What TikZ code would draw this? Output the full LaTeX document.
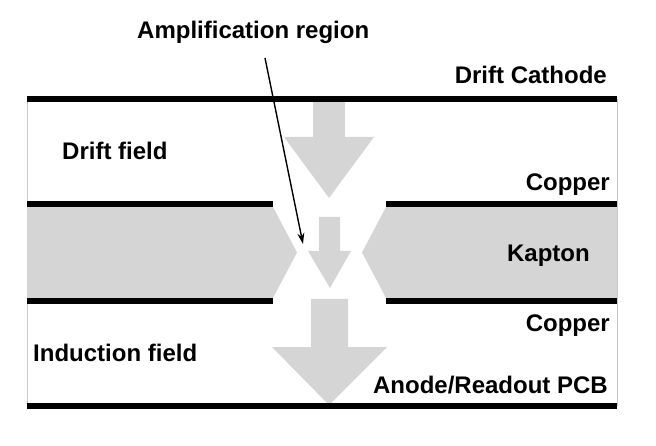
\documentclass[tikz,border=0pt]{standalone}
\usepackage{fontspec}
\setmainfont{Liberation Sans}
\usetikzlibrary{arrows.meta}
\definecolor{fieldgray}{RGB}{214,213,214}
\definecolor{edgegray}{RGB}{200,200,200}
\tikzset{
  lbl/.style={font=\fontsize{24}{27}\selectfont\bfseries, inner sep=0pt, text=black},
  electrode/.style={line width=6pt, black},
  fieldarrow/.style={fill=fieldgray, draw=none},
  pointer/.style={line width=1.4pt, -{Stealth[length=11pt,width=7pt]}},
}
\begin{document}
\begin{tikzpicture}[x=1pt,y=-1pt]
\useasboundingbox (0,0) rectangle (656,446);
% faint side edges
\draw[edgegray, line width=0.8pt] (27,99) -- (27,405.5);
\draw[edgegray, line width=0.8pt] (617,99) -- (617,405.5);
% kapton
\fill[fieldgray] (27,207) -- (273,207) -- (297,252.5) -- (273,298) -- (27,298) -- cycle;
\fill[fieldgray] (617,207) -- (386,207) -- (362,252.5) -- (386,298) -- (617,298) -- cycle;
% field arrows
\fill[fieldarrow] (313,102) -- (345,102) -- (345,137) -- (374,137) -- (329,198) -- (284,137) -- (313,137) -- cycle;
\fill[fieldarrow] (319,217) -- (340,217) -- (340,251) -- (351,251) -- (330,288) -- (308,251) -- (319,251) -- cycle;
\fill[fieldarrow] (311,299) -- (348,299) -- (348,347) -- (387,347) -- (329,405) -- (272,347) -- (311,347) -- cycle;
% electrodes
\draw[electrode] (27,99) -- (617,99);
\draw[electrode] (27,204) -- (273,204);
\draw[electrode] (386,204) -- (617,204);
\draw[electrode] (27,301.5) -- (273,301.5);
\draw[electrode] (386,301.5) -- (617,301.5);
\draw[electrode] (27,406) -- (617,406);
% labels
\node[lbl, anchor=base west] (amp) at (137,39) {Amplification region};
\node[lbl, anchor=base east] (cath) at (607,84) {Drift Cathode};
\node[lbl, anchor=base west] (drift) at (62,160) {Drift field};
\node[lbl, anchor=base east] (cu1) at (610,191) {Copper};
\node[lbl, anchor=base east] (kap) at (590,262) {Kapton};
\node[lbl, anchor=base east] (cu2) at (610,331) {Copper};
\node[lbl, anchor=base west] (ind) at (33,362) {Induction field};
\node[lbl, anchor=base east] (anode) at (608,393) {Anode/Readout PCB};
% pointer
\coordinate (pstart) at (265,58);
\coordinate (ptip) at (303,244);
\draw[pointer] (pstart) -- (ptip);
\end{tikzpicture}
\end{document}
